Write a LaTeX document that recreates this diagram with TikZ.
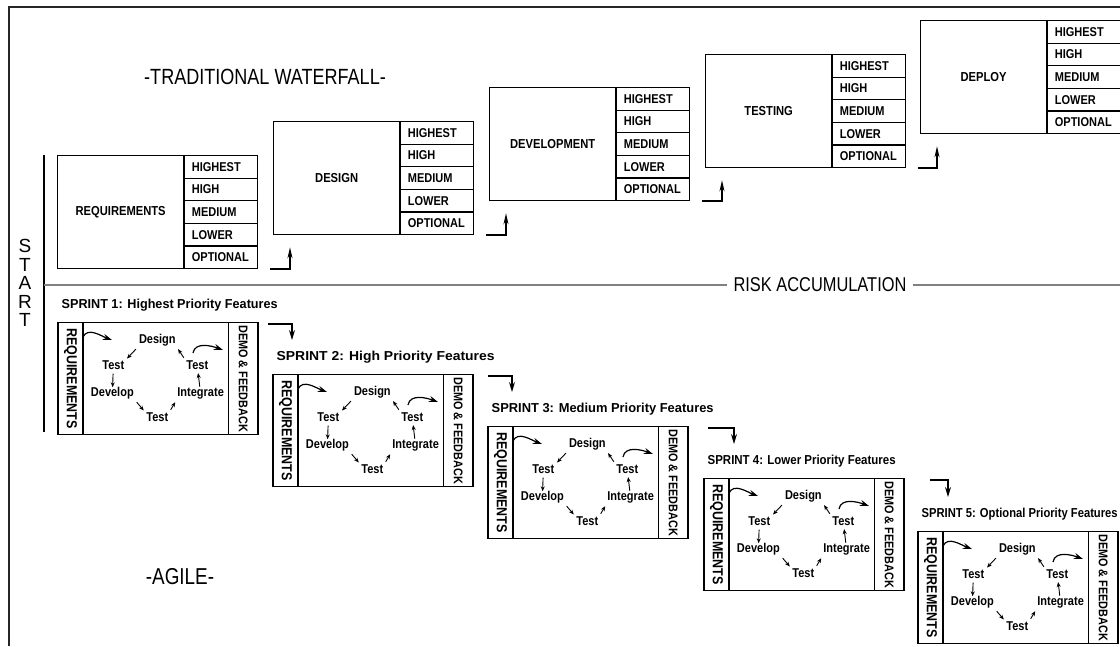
\documentclass[tikz,border=0pt]{standalone}
\usepackage{fontspec}
\usepackage{graphicx}
\setmainfont{Liberation Sans}[FakeStretch=0.86]
\newfontfamily\headfont{Liberation Sans}[FakeStretch=0.82]
\newfontfamily\titlefont{Liberation Sans}
\usetikzlibrary{arrows.meta,calc,positioning}
\tikzset{
  >={Stealth[length=8pt,width=5pt]},
  line cap=round,
  line join=round,
  every picture/.style={line width=1.3pt},
  framebox/.style={draw=black!85, line width=2pt},
  headline/.style={font=\headfont\fontsize{21}{23}\selectfont, inner sep=1pt},
  stagebox/.style={draw, minimum width=126pt, minimum height=113pt, inner sep=0pt, anchor=north west, font=\bfseries\fontsize{13}{15}\selectfont},
  cell/.style={draw, line width=1.1pt, minimum height=22.6pt, inner xsep=7pt, inner ysep=0pt, text width=59pt, align=left, anchor=north west, font=\bfseries\fontsize{12.8}{15}\selectfont},
  steparrow/.style={->, >={Stealth[length=11pt,width=5pt]}, line width=1.3pt},
  riskline/.style={draw=black!50, line width=2.4pt, line cap=butt},
  sprintbox/.style={draw, minimum width=199pt, minimum height=112pt, anchor=north west, inner sep=0pt},
  sprinttitle/.style={font=\bfseries\fontsize{13}{15}\selectfont, inner sep=0pt},
  reqcol/.style={draw, rotate=-90, minimum width=112pt, minimum height=25pt, inner sep=0pt, font=\bfseries\fontsize{14.5}{16}\selectfont},
  democol/.style={draw, rotate=-90, minimum width=112pt, minimum height=30pt, inner sep=0pt, font=\bfseries\fontsize{12.6}{14}\selectfont},
  cycword/.style={font=\bfseries\fontsize{12.8}{14}\selectfont, inner sep=0pt, text height=8.5pt, text depth=2pt},
  cyc/.style={->, >={Stealth[length=5pt,width=4pt]}, line width=0.9pt, shorten <=1pt, shorten >=0.5pt},
  cycd/.style={cyc, shorten <=3.5pt, shorten >=3pt},
  bendarrow/.style={->, >={Stealth[length=9pt,width=6pt]}, line width=1.2pt},
  sprintarrow/.style={->, >={Stealth[length=10pt,width=6pt]}, line width=1.2pt}
}
\begin{document}
\begin{tikzpicture}[x=1pt,y=-1pt]
  \useasboundingbox (0,0) rectangle (1120,646);
  \draw[framebox] (9,646) -- (9,7) -- (1120,7);

  % traditional waterfall
  \node[headline, font=\headfont\fontsize{22}{24}\selectfont] (wf) at (265,77) {-TRADITIONAL WATERFALL-};
  \foreach \name/\txt/\x/\y in {req/REQUIREMENTS/57/155, des/DESIGN/273/121, dev/DEVELOPMENT/489/87, tst/TESTING/705/54, dep/DEPLOY/920/20} {
    \node[stagebox] (\name) at (\x,\y) {\txt};
    \foreach \p [count=\k] in {HIGHEST,HIGH,MEDIUM,LOWER,OPTIONAL}
      \node[cell] (\name-\k) at ($(\name.north east)+(0,{(\k-1)*22.6})$) {\p};
  }
  \foreach \a/\b in {req/des, des/dev, dev/tst, tst/dep}
    \draw[steparrow] ([xshift=12pt]\a-5.south east) -| ([xshift=17pt,yshift=-12pt]\b.south west);

  % start and risk line
  \node[font=\titlefont\fontsize{19}{18.6}\selectfont, align=center, inner sep=0pt] (start) at (25,283) {S\\T\\A\\R\\T};
  \coordinate (st) at (44,155);
  \coordinate (sb) at (44,432);
  \draw (st) -- (sb);
  \node[headline, font=\headfont\fontsize{20}{22}\selectfont, inner xsep=6pt] (risk) at (820,285) {RISK ACCUMULATION};
  \coordinate (rl) at (44,285);
  \coordinate (rr) at (1120,285);
  \draw[riskline] (rl) -- (risk);
  \draw[riskline] (risk) -- (rr);

  % agile sprints
  \node[headline, font=\headfont\fontsize{23}{25}\selectfont] (agile) at (180,577) {-AGILE-};
  \foreach \i/\prio/\x/\y/\tw in {1/Highest/58/322/216, 2/High/273/374/218, 3/Medium/488/426/222, 4/Lower/704/478/188, 5/Optional/918/531/196} {
    \node[sprintbox] (s\i) at (\x,\y) {};
    \node[sprinttitle, anchor=base west] (t\i) at (\x+3,\y-14) {\resizebox{\tw pt}{9.4pt}{SPRINT \i: \prio\ Priority Features}};
    \node[reqcol] (s\i-req) at ($(s\i.west)+(12.5,0)$) {REQUIREMENTS};
    \node[democol] (s\i-demo) at ($(s\i.east)+(-15,0)$) {DEMO \& FEEDBACK};
    \coordinate (s\i-c) at ($(s\i.center)+(-2.5,0)$);
    \node[cycword] (s\i-d) at ($(s\i-c)+(1.7,-38)$) {Design};
    \node[cycword] (s\i-tl) at ($(s\i-c)+(-42.3,-12)$) {Test};
    \node[cycword] (s\i-dv) at ($(s\i-c)+(-43.3,15)$) {Develop};
    \node[cycword] (s\i-tb) at ($(s\i-c)+(1.7,40)$) {Test};
    \node[cycword] (s\i-ig) at ($(s\i-c)+(45,15)$) {Integrate};
    \node[cycword] (s\i-tr) at ($(s\i-c)+(41.7,-12)$) {Test};
    \draw[cycd] (s\i-d.south west) -- (s\i-tl.north east);
    \draw[cyc] (s\i-tl) -- (s\i-dv);
    \draw[cycd] (s\i-dv.south east) -- (s\i-tb.north west);
    \draw[cycd] (s\i-tb.north east) -- (s\i-ig.south west);
    \draw[cyc] (s\i-ig) -- (s\i-tr);
    \draw[cycd] (s\i-tr.north west) -- (s\i-d.south east);
    \draw[bendarrow] ($(s\i.north west)+(25,15)$) to[out=65,in=160] ($(s\i.north west)+(54,18)$);
    \draw[bendarrow] ($(s\i.north west)+(135,31)$) to[out=80,in=160] ($(s\i.north west)+(165,28)$);
  }
  \foreach \a/\b/\dx/\ex in {1/2/10/19, 2/3/15/24, 3/4/20/30, 4/5/26/30}
    \draw[sprintarrow] ([xshift=\dx pt,yshift=-2pt]s\a.north east) -| ([xshift=\ex pt,yshift=34pt]s\b.north west);
\end{tikzpicture}
\end{document}
